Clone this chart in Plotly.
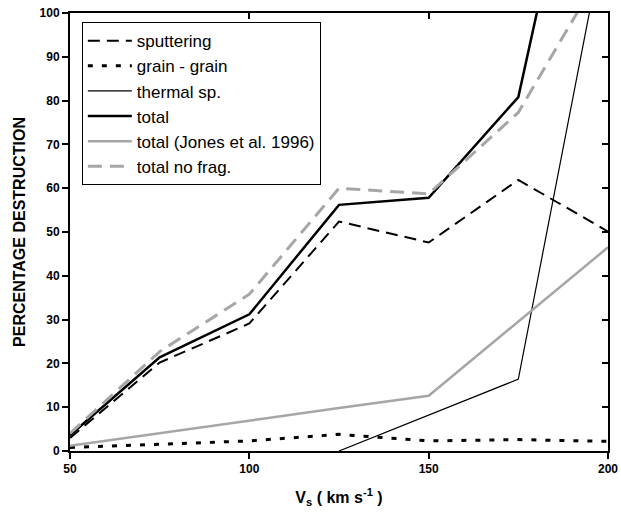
import plotly.graph_objects as go

vs = [50, 75, 100, 125, 150, 175, 200]
sputtering = [3.0, 20.2, 29.1, 52.4, 47.6, 61.9, 50.1]
grain_grain = [0.8, 1.6, 2.3, 3.8, 2.3, 2.6, 2.2]
thermal_vs = [125, 150, 175, 200]
thermal = [0.0, 8.2, 16.4, 122.0]
total = [3.6, 21.4, 31.2, 56.2, 57.8, 80.8, 174.0]
jones = [1.2, 4.1, 7.0, 9.8, 12.6, 29.6, 46.5]
total_nofrag = [4.0, 22.7, 35.8, 60.0, 58.7, 77.3, 112.0]

x_ticks = [50, 100, 150, 200]
y_ticks = list(range(0, 101, 10))

FONT = "Arial, Liberation Sans, sans-serif"
GRAY = "#a6a6a6"

fig = go.Figure()
fig.add_trace(go.Scatter(x=vs, y=sputtering, mode="lines", name="sputtering",
                         line=dict(color="black", width=2, dash="12px,7px")))
fig.add_trace(go.Scatter(x=vs, y=grain_grain, mode="lines", name="grain - grain",
                         line=dict(color="black", width=3, dash="5px,9px")))
fig.add_trace(go.Scatter(x=thermal_vs, y=thermal, mode="lines", name="thermal sp.",
                         line=dict(color="black", width=1.2)))
fig.add_trace(go.Scatter(x=vs, y=total, mode="lines", name="total",
                         line=dict(color="black", width=2.5)))
fig.add_trace(go.Scatter(x=vs, y=jones, mode="lines", name="total (Jones et al. 1996)",
                         line=dict(color=GRAY, width=2.5)))
fig.add_trace(go.Scatter(x=vs, y=total_nofrag, mode="lines", name="total no frag.",
                         line=dict(color=GRAY, width=3, dash="14px,8px")))
# invisible trace to activate mirrored (inside-tick) axes
fig.add_trace(go.Scatter(x=[vs[0]], y=[0], xaxis="x2", yaxis="y2", mode="markers",
                         marker=dict(opacity=0), showlegend=False, hoverinfo="skip"))

axis_common = dict(showgrid=False, zeroline=False, showline=True, linecolor="black",
                   linewidth=2, tickcolor="black", tickwidth=2, ticklen=6,
                   automargin=False)

fig.update_layout(
    width=621, height=512,
    margin=dict(l=70, r=13, t=13, b=61),
    paper_bgcolor="white", plot_bgcolor="white",
    font=dict(family=FONT, color="black"),
    xaxis=dict(range=[50, 200], tickvals=x_ticks, ticks="outside",
               tickfont=dict(size=12, family=FONT, weight="bold"),
               title=dict(text="V<sub>s</sub> ( km s<sup>-1</sup> )",
                          font=dict(size=16, family=FONT, weight="bold"), standoff=16),
               **axis_common),
    yaxis=dict(range=[0, 100], tickvals=y_ticks, ticks="outside",
               tickfont=dict(size=12, family=FONT, weight="bold"),
               title=dict(text="PERCENTAGE DESTRUCTION",
                          font=dict(size=16, family=FONT, weight="bold"), standoff=10),
               **axis_common),
    xaxis2=dict(range=[50, 200], tickvals=x_ticks, ticks="inside", showticklabels=False,
                overlaying="x", side="top", **axis_common),
    yaxis2=dict(range=[0, 100], tickvals=y_ticks, ticks="inside", showticklabels=False,
                overlaying="y", side="right", **axis_common),
    legend=dict(x=0.022, y=0.979, xanchor="left", yanchor="top",
                bordercolor="black", borderwidth=1, bgcolor="white",
                font=dict(size=17, family=FONT), tracegroupgap=0,
                itemwidth=44),
    showlegend=True,
)

fig.write_html("out.html")
